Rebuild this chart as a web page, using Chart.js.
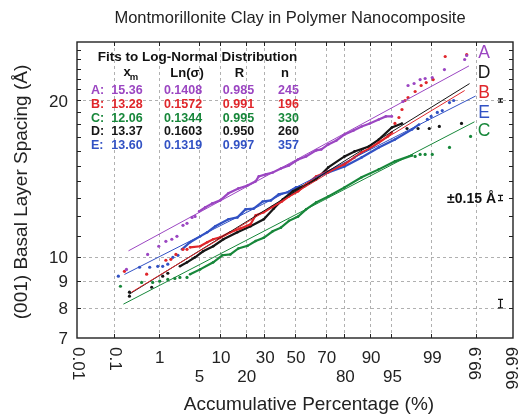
<!DOCTYPE html>
<html>
<head>
<meta charset="utf-8">
<script src="https://cdn.jsdelivr.net/npm/chart.js@4.4.0/dist/chart.umd.min.js"></script>
<style>
  html, body { margin: 0; padding: 0; background: #fff; }
  #wrap { width: 520px; height: 416px; }
</style>
</head>
<body>
<div id="wrap"><canvas id="chart" width="520" height="416"></canvas></div>
<script>
// ---- data: [cumulative %, spacing in Å] ----
const seriesNames = ["A", "B", "C", "D", "E"];

const aLow = [[0.202, 9.48], [0.597, 10.13], [1.006, 10.5], [1.38, 10.73], [1.78, 10.83], [2.2, 10.97], [2.8, 11.52], [3.27, 11.62], [3.95, 11.93], [4.41, 11.98]];
const aBody = [[5.09, 12.25], [6.27, 12.47], [7.9, 12.69], [10.1, 12.86], [12.8, 13.27], [16.7, 13.56], [20.9, 13.74], [25.1, 13.99], [26.8, 14.3], [30.9, 14.43], [35.2, 14.55], [40.5, 14.81], [45.9, 15.01], [52.1, 15.41], [57.5, 15.62], [64.1, 16.04], [67.3, 16.11], [71.5, 16.47], [76.0, 16.76], [80.1, 17.21], [84.1, 17.52], [87.2, 17.83], [89.9, 18.07], [92.35, 18.39], [93.94, 18.64], [95.08, 18.64]];
const aHigh = [[96.73, 19.91], [97.31, 21.37], [97.89, 21.56], [98.36, 21.94], [98.68, 22.04], [99.04, 22.13], [99.46, 22.93], [99.81, 23.97], [99.83, 24.4]];

const bLow = [[0.181, 9.4], [0.569, 9.28], [1.38, 9.87], [1.71, 9.91], [2.11, 10.13], [2.8, 10.36], [3.27, 10.36]];
const bBody = [[3.67, 10.45], [5.28, 10.5], [6.71, 10.69], [8.15, 10.83], [10.1, 10.92], [13.5, 11.17], [17.6, 11.36], [22.4, 11.57], [25.1, 12.04], [29.7, 12.2], [35.2, 12.52], [41.1, 12.8], [45.9, 13.09], [52.1, 13.39], [57.5, 13.8], [64.1, 14.3], [71.5, 14.62], [80.1, 15.08], [84.5, 15.55], [87.2, 15.9], [89.9, 16.18], [92.35, 16.61], [94.34, 17.06], [95.08, 17.37]];
const bHigh = [[95.59, 18.07], [96.19, 18.55], [96.6, 19.22], [96.97, 20.0], [97.31, 20.26], [97.98, 20.81], [98.43, 21.37], [98.74, 21.65], [99.08, 21.94], [99.48, 24.29], [99.83, 24.51]];

const cLow = [[0.145, 8.8], [0.444, 8.95], [0.76, 8.95], [1.05, 9.0], [1.5, 9.07], [2.02, 9.11], [2.48, 9.15], [3.27, 9.15]];
const cBody = [[3.67, 9.28], [5.28, 9.48], [8.15, 9.78], [10.75, 10.09], [13.5, 10.13], [16.7, 10.4], [20.9, 10.52], [25.1, 10.75], [29.7, 10.9], [35.2, 11.22], [40.5, 11.4], [45.9, 11.75], [52.1, 11.97], [57.5, 12.36], [64.1, 12.75], [71.5, 13.09], [80.1, 13.62], [87.2, 14.24], [92.35, 14.75], [95.59, 15.28], [97.71, 15.69]];
const cHigh = [[97.98, 15.62], [98.36, 15.76], [98.68, 15.76], [99.04, 15.76], [99.58, 16.25], [99.863, 17.06]];

const dLow = [[0.237, 8.42], [0.237, 8.57], [0.724, 8.76], [1.2, 9.2], [1.5, 9.32]];
const dBody = [[2.48, 9.61], [3.27, 9.78], [4.41, 10.0], [5.86, 10.27], [8.15, 10.5], [11.1, 10.83], [16.3, 11.17], [22.4, 11.47], [29.7, 11.83], [35.9, 12.41], [41.8, 12.92], [48.6, 13.39], [57.5, 13.8], [64.1, 14.11], [71.5, 14.88], [80.1, 15.62], [84.5, 15.97], [89.6, 16.32], [92.35, 16.83], [95.08, 17.75], [96.6, 18.07]];
const dHigh = [[97.2, 17.67], [98.21, 17.67], [98.9, 17.67], [99.31, 17.83], [99.775, 18.07]];

const eLow = [[0.129, 9.2], [0.4, 9.57], [0.659, 9.57], [0.96, 9.61], [1.2, 9.61], [1.5, 9.7], [1.86, 10.0], [2.29, 10.09]];
const eBody = [[2.69, 10.36], [3.67, 10.69], [5.28, 10.97], [6.71, 11.17], [8.69, 11.47], [12.8, 11.83], [16.3, 11.93], [19.9, 12.36], [24.0, 12.4], [29.1, 12.8], [34.0, 12.86], [39.1, 13.21], [45.2, 13.33], [50.7, 13.62], [56.2, 13.68], [64.1, 14.24], [71.5, 14.55], [80.1, 14.94], [87.2, 15.55], [92.35, 16.25], [95.59, 16.83], [97.71, 17.6], [98.29, 17.99]];
const eHigh = [[98.8, 18.39], [98.99, 18.64], [99.24, 18.97], [99.4, 19.13], [99.58, 19.82], [99.66, 20.0]];

// fitted log-normal lines (end points)
const fitA = [[0.225, 10.29], [99.85, 23.3]];
const fitB = [[0.264, 8.57], [99.81, 20.9]];
const fitC = [[0.171, 8.13], [99.89, 18.2]];
const fitD = [[0.237, 8.5], [99.855, 21.55]];
const fitE = [[0.181, 9.27], [99.897, 20.4]];

// fit table
const fitXm = ["15.36", "13.28", "12.06", "13.37", "13.60"];
const fitLnSigma = ["0.1408", "0.1572", "0.1344", "0.1603", "0.1319"];
const fitR = ["0.985", "0.991", "0.995", "0.950", "0.997"];
const fitN = ["245", "196", "330", "260", "357"];

// axes
const xTickValues = [0.01, 0.1, 1, 5, 10, 20, 30, 50, 70, 80, 90, 95, 99, 99.9, 99.99];
const xTickLabels = ["0.01", "0.1", "1", "5", "10", "20", "30", "50", "70", "80", "90", "95", "99", "99.9", "99.99"];
const yTickValues = [8, 9, 10, 11, 12, 13, 14, 15, 16, 17, 18, 19, 20, 21, 22, 23, 24, 25];
const yLabelValues = [7, 8, 9, 10, 20];
const yGridValues = [8, 9, 10, 20];

// ±0.15 Å error-bar markers
const errMarkX = 99.977;
const errMarkY = [20, 13.0, 8.15];
const errHalf = 0.15;

// ---- styles ----
const colors = { A: "#9b46c2", B: "#e0262b", C: "#17873a", D: "#161616", E: "#3252c4" };
const FONT = "'Liberation Sans', Arial, Helvetica, sans-serif";

// inverse normal CDF (Acklam), percentage -> z
function probit(pct) {
  const p = pct / 100;
  const a = [-39.69683028665376, 220.9460984245205, -275.9285104469687, 138.357751867269, -30.66479806614716, 2.506628277459239];
  const b = [-54.47609879822406, 161.5858368580409, -155.6989798598866, 66.80131188771972, -13.28068155288572];
  const c = [-0.007784894002430293, -0.3223964580411365, -2.400758277161838, -2.549732539343734, 4.374664141464968, 2.938163982698783];
  const d = [0.007784695709041462, 0.3224671290700398, 2.445134137142996, 3.754408661907416];
  const pl = 0.02425;
  let q, r;
  if (p < pl) {
    q = Math.sqrt(-2 * Math.log(p));
    return (((((c[0] * q + c[1]) * q + c[2]) * q + c[3]) * q + c[4]) * q + c[5]) / ((((d[0] * q + d[1]) * q + d[2]) * q + d[3]) * q + 1);
  }
  if (p > 1 - pl) {
    q = Math.sqrt(-2 * Math.log(1 - p));
    return -(((((c[0] * q + c[1]) * q + c[2]) * q + c[3]) * q + c[4]) * q + c[5]) / ((((d[0] * q + d[1]) * q + d[2]) * q + d[3]) * q + 1);
  }
  q = p - 0.5;
  r = q * q;
  return (((((a[0] * r + a[1]) * r + a[2]) * r + a[3]) * r + a[4]) * r + a[5]) * q / (((((b[0] * r + b[1]) * r + b[2]) * r + b[3]) * r + b[4]) * r + 1);
}

const toXY = (arr) => arr.map(([p, v]) => ({ x: probit(p), y: v }));

const groups = {
  A: [aLow, aBody, aHigh, fitA],
  B: [bLow, bBody, bHigh, fitB],
  C: [cLow, cBody, cHigh, fitC],
  D: [dLow, dBody, dHigh, fitD],
  E: [eLow, eBody, eHigh, fitE],
};

const datasets = [];
seriesNames.forEach((name) => {
  const [low, body, high, fit] = groups[name];
  const col = colors[name];
  [low, high].forEach((pts) => {
    datasets.push({
      data: toXY(pts), showLine: false, pointRadius: 1.6, pointBorderWidth: 0,
      pointBackgroundColor: col, order: 2,
    });
  });
  datasets.push({
    data: toXY(body), showLine: true, borderColor: col, borderWidth: 2.2,
    pointRadius: 1.3, pointBorderWidth: 0, pointBackgroundColor: col, tension: 0, order: 2,
  });
  datasets.push({
    data: toXY(fit), showLine: true, borderColor: col, borderWidth: 1,
    pointRadius: 0, order: 1,
  });
});

// axes, grid, labels and annotations drawn on the canvas
const decor = {
  id: "decor",
  beforeDatasetsDraw(chart) {
    const { ctx, chartArea: a, scales: { x, y } } = chart;
    ctx.save();
    ctx.strokeStyle = "#b0b0b0";
    ctx.lineWidth = 1;
    ctx.setLineDash([3, 3]);
    xTickValues.slice(1, -1).forEach((v) => {
      const px = Math.round(x.getPixelForValue(probit(v))) + 0.5;
      ctx.beginPath(); ctx.moveTo(px, a.top); ctx.lineTo(px, a.bottom); ctx.stroke();
    });
    yGridValues.forEach((v) => {
      const py = Math.round(y.getPixelForValue(v)) + 0.5;
      ctx.beginPath(); ctx.moveTo(a.left, py); ctx.lineTo(a.right, py); ctx.stroke();
    });
    ctx.restore();
  },
  afterDatasetsDraw(chart) {
    const { ctx, chartArea: a, scales: { x, y } } = chart;
    ctx.save();
    // frame
    ctx.strokeStyle = "#222";
    ctx.lineWidth = 1.4;
    ctx.strokeRect(a.left, a.top, a.right - a.left, a.bottom - a.top);
    // inward ticks
    ctx.lineWidth = 1;
    const tl = 4;
    xTickValues.slice(1, -1).forEach((v) => {
      const px = Math.round(x.getPixelForValue(probit(v))) + 0.5;
      ctx.beginPath();
      ctx.moveTo(px, a.bottom); ctx.lineTo(px, a.bottom - tl);
      ctx.moveTo(px, a.top); ctx.lineTo(px, a.top + tl);
      ctx.stroke();
    });
    yTickValues.forEach((v) => {
      const py = Math.round(y.getPixelForValue(v)) + 0.5;
      ctx.beginPath();
      ctx.moveTo(a.left, py); ctx.lineTo(a.left + tl, py);
      ctx.moveTo(a.right, py); ctx.lineTo(a.right - tl, py);
      ctx.stroke();
    });

    // y tick labels
    ctx.fillStyle = "#222";
    ctx.font = `17px ${FONT}`;
    ctx.textAlign = "right";
    ctx.textBaseline = "middle";
    yLabelValues.forEach((v) => {
      ctx.fillText(String(v), 68, y.getPixelForValue(v) + 1.5);
    });

    // x tick labels: two staggered rows, rotated at the ends
    const place = ["cw", "cw", 0, 1, 0, 1, 0, 0, 0, 1, 0, 1, 0, "ccw", "ccw"];
    xTickValues.forEach((v, i) => {
      const px = x.getPixelForValue(probit(v));
      const p = place[i];
      ctx.save();
      if (p === "cw") {
        ctx.translate(px + 1, 347);
        ctx.rotate(Math.PI / 2);
        ctx.textAlign = "left";
        ctx.fillText(xTickLabels[i], 0, 0);
      } else if (p === "ccw") {
        ctx.translate(px, 347);
        ctx.rotate(-Math.PI / 2);
        ctx.textAlign = "right";
        ctx.fillText(xTickLabels[i], 0, 0);
      } else {
        ctx.textAlign = "center";
        ctx.fillText(xTickLabels[i], px + 1, p === 0 ? 358 : 377);
      }
      ctx.restore();
    });

    // titles
    ctx.textAlign = "center";
    ctx.font = `16.5px ${FONT}`;
    ctx.fillText("Montmorillonite Clay in Polymer Nanocomposite", 290, 18);
    ctx.font = `19px ${FONT}`;
    ctx.fillText("Accumulative Percentage (%)", 309, 405);
    ctx.save();
    ctx.translate(22, 192);
    ctx.rotate(-Math.PI / 2);
    ctx.fillText("(001) Basal Layer Spacing (Å)", 0, 0);
    ctx.restore();

    // fit table
    ctx.fillStyle = "#111";
    ctx.font = `bold 13.5px ${FONT}`;
    ctx.fillText("Fits to Log-Normal Distribution", 197.5, 57);
    ctx.font = `bold 13px ${FONT}`;
    ctx.fillText("x", 127, 72);
    ctx.font = `bold 9.5px ${FONT}`;
    ctx.fillText("m", 134, 77);
    ctx.font = `bold 13px ${FONT}`;
    ctx.fillText("Ln(σ)", 187, 73);
    ctx.fillText("R", 239.5, 73);
    ctx.fillText("n", 285, 73);
    ctx.font = `bold 12.5px ${FONT}`;
    const rowY = [90.5, 104.5, 118.5, 132, 146];
    seriesNames.forEach((name, i) => {
      ctx.fillStyle = colors[name];
      ctx.textAlign = "left";
      ctx.fillText(name + ":", 91, rowY[i]);
      ctx.textAlign = "center";
      ctx.fillText(fitXm[i], 127, rowY[i]);
      ctx.fillText(fitLnSigma[i], 183, rowY[i]);
      ctx.fillText(fitR[i], 238.5, rowY[i]);
      ctx.fillText(fitN[i], 288.5, rowY[i]);
    });

    // series letters on the right
    const letterOrder = ["A", "D", "B", "E", "C"];
    const letterY = [53, 73, 93, 113, 131.5];
    ctx.font = `17.5px ${FONT}`;
    ctx.textAlign = "center";
    letterOrder.forEach((name, i) => {
      ctx.fillStyle = colors[name];
      ctx.fillText(name, 484, letterY[i]);
    });

    // ±0.15 Å markers
    ctx.fillStyle = "#111";
    ctx.font = `bold 14px ${FONT}`;
    ctx.textAlign = "right";
    ctx.fillText("±0.15 Å", 496, 199.5);
    ctx.strokeStyle = "#111";
    ctx.lineWidth = 1.2;
    const ex = Math.round(x.getPixelForValue(probit(errMarkX))) + 0.5;
    errMarkY.forEach((v) => {
      const y1 = y.getPixelForValue(v + errHalf);
      const y2 = y.getPixelForValue(v - errHalf);
      ctx.beginPath();
      ctx.moveTo(ex, y1); ctx.lineTo(ex, y2);
      ctx.moveTo(ex - 2.5, y1); ctx.lineTo(ex + 2.5, y1);
      ctx.moveTo(ex - 2.5, y2); ctx.lineTo(ex + 2.5, y2);
      ctx.stroke();
    });
    ctx.restore();
  },
};

new Chart(document.getElementById("chart"), {
  type: "scatter",
  data: { datasets },
  options: {
    responsive: false,
    animation: false,
    layout: { padding: { left: 77, right: 7, top: 42, bottom: 78 } },
    scales: {
      x: { type: "linear", display: false, min: probit(0.01), max: probit(99.99) },
      y: { type: "logarithmic", display: false, min: 7, max: 25.9 },
    },
    plugins: { legend: { display: false }, tooltip: { enabled: false } },
  },
  plugins: [decor],
});
</script>
</body>
</html>
